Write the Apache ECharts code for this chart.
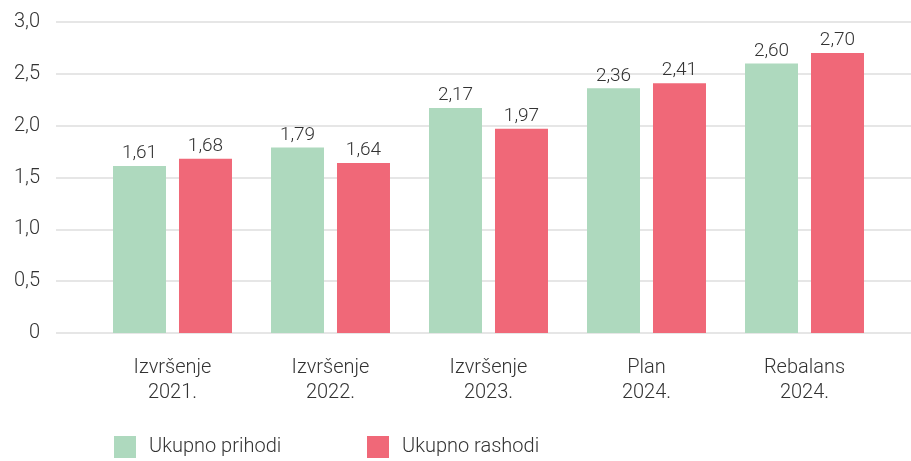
<!DOCTYPE html>
<html>
<head>
<meta charset="utf-8">
<script src="https://cdn.jsdelivr.net/npm/echarts@6/dist/echarts.min.js"></script>
<style>
html,body{margin:0;padding:0;background:#fff;}
#chart{width:911px;height:461px;}
</style>
</head>
<body>
<div id="chart"></div>
<script>
const categories = ['Izvršenje\n2021.', 'Izvršenje\n2022.', 'Izvršenje\n2023.', 'Plan\n2024.', 'Rebalans\n2024.'];
const prihodi = [1.61, 1.79, 2.17, 2.36, 2.60];
const rashodi = [1.68, 1.64, 1.97, 2.41, 2.70];
const seriesNames = ['Ukupno prihodi', 'Ukupno rashodi'];
const yMin = 0, yMax = 3, yInterval = 0.5;

const FONT = 'Roboto';
const FW = 300;
const TXT = '#333333';
const fmt = v => v.toFixed(2).replace('.', ',');

const chart = echarts.init(document.getElementById('chart'));
chart.setOption({
  animation: false,
  textStyle: { fontFamily: FONT, fontWeight: FW },
  grid: [
    { left: 56, right: 0, top: 22, bottom: 128 },
    { left: 93.5, right: 27.5, top: 22, bottom: 128 }
  ],
  legend: [
    { data: [seriesNames[0]], left: 114, top: 436, itemWidth: 22, itemHeight: 22, itemGap: 13,
      icon: 'rect', textStyle: { fontFamily: FONT, fontWeight: FW, fontSize: 20, color: TXT, padding: [5, 0, 0, 8] }, padding: 0 },
    { data: [seriesNames[1]], left: 367, top: 436, itemWidth: 22, itemHeight: 22, itemGap: 13,
      icon: 'rect', textStyle: { fontFamily: FONT, fontWeight: FW, fontSize: 20, color: TXT, padding: [5, 0, 0, 8] }, padding: 0 }
  ],
  xAxis: [
    { gridIndex: 0, type: 'value', show: false, min: 0, max: 1 },
    { gridIndex: 1, type: 'category', data: categories,
      axisLine: { show: false }, axisTick: { show: false },
      axisLabel: { fontFamily: FONT, fontWeight: FW, fontSize: 20, color: TXT, lineHeight: 25, margin: 22, interval: 0 } }
  ],
  yAxis: [
    { gridIndex: 0, type: 'value', min: yMin, max: yMax, interval: yInterval,
      axisLine: { show: false }, axisTick: { show: false },
      splitLine: { lineStyle: { color: '#e6e6e6', width: 2 } },
      axisLabel: { fontFamily: FONT, fontWeight: FW, fontSize: 20, color: TXT, margin: 16,
        formatter: v => v === 0 ? '0' : v.toFixed(1).replace('.', ',') } },
    { gridIndex: 1, type: 'value', min: yMin, max: yMax, interval: yInterval, show: false, splitLine: { show: false } }
  ],
  series: [
    { name: seriesNames[0], type: 'bar', xAxisIndex: 1, yAxisIndex: 1, data: prihodi,
      barWidth: 53, barGap: '24.5%', itemStyle: { color: '#aed9be' },
      label: { show: true, position: 'top', distance: 3, fontFamily: FONT, fontWeight: FW, fontSize: 19, color: TXT,
        formatter: p => fmt(p.value) } },
    { name: seriesNames[1], type: 'bar', xAxisIndex: 1, yAxisIndex: 1, data: rashodi,
      barWidth: 53, barGap: '24.5%', itemStyle: { color: '#f06878' },
      label: { show: true, position: 'top', distance: 3, fontFamily: FONT, fontWeight: FW, fontSize: 19, color: TXT,
        formatter: p => fmt(p.value) } }
  ]
});
</script>
</body>
</html>
